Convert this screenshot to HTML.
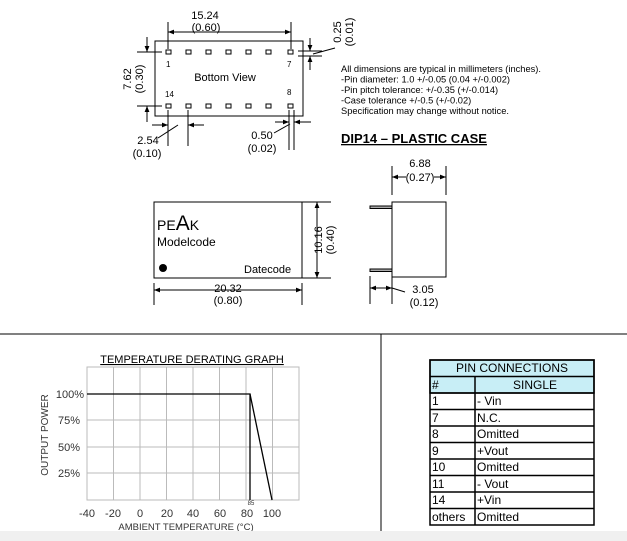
<!DOCTYPE html>
<html><head><style>
body{margin:0;background:#fff;}
svg{display:block;font-family:"Liberation Sans",Arial,sans-serif;}
</style></head><body>
<svg width="627" height="541" viewBox="0 0 627 541" xmlns="http://www.w3.org/2000/svg">
<defs>
<marker id="a" viewBox="0 0 10 10" refX="10" refY="5" markerWidth="7" markerHeight="6" orient="auto-start-reverse"><path d="M0,1 L10,5 L0,9z" fill="#000"/></marker>
</defs>
<g stroke="#000" stroke-width="1" fill="none">
<rect x="155" y="41" width="148" height="75"/>
<g stroke-width="1">
<rect x="166" y="50" width="5" height="4"/><rect x="186" y="50" width="5" height="4"/><rect x="206" y="50" width="5" height="4"/><rect x="226" y="50" width="5" height="4"/><rect x="246" y="50" width="5" height="4"/><rect x="266" y="50" width="5" height="4"/><rect x="288" y="50" width="5" height="4"/>
<rect x="166" y="104" width="5" height="4"/><rect x="186" y="104" width="5" height="4"/><rect x="206" y="104" width="5" height="4"/><rect x="226" y="104" width="5" height="4"/><rect x="246" y="104" width="5" height="4"/><rect x="266" y="104" width="5" height="4"/><rect x="288" y="104" width="5" height="4"/>
</g>
<line x1="168" y1="22" x2="168" y2="49"/><line x1="291" y1="22" x2="291" y2="49"/>
<line x1="168" y1="32" x2="291" y2="32" marker-start="url(#a)" marker-end="url(#a)"/>
<line x1="137" y1="52" x2="162" y2="52"/><line x1="137" y1="106" x2="162" y2="106"/>
<line x1="147" y1="37" x2="147" y2="52" marker-end="url(#a)"/><line x1="147" y1="122" x2="147" y2="106" marker-end="url(#a)"/>
<line x1="298" y1="51" x2="322" y2="51"/><line x1="298" y1="56" x2="322" y2="56"/>
<line x1="310" y1="38" x2="310" y2="51" marker-end="url(#a)"/><line x1="310" y1="70" x2="310" y2="56" marker-end="url(#a)"/>
<line x1="313" y1="54" x2="335" y2="48"/>
<line x1="168" y1="110" x2="168" y2="146"/><line x1="188" y1="110" x2="188" y2="146"/>
<line x1="152" y1="125" x2="168" y2="125" marker-end="url(#a)"/><line x1="204" y1="125" x2="188" y2="125" marker-end="url(#a)"/>
<line x1="158" y1="138" x2="178" y2="125"/>
<line x1="289" y1="110" x2="289" y2="150"/><line x1="294" y1="110" x2="294" y2="150"/>
<line x1="275" y1="122" x2="289" y2="122" marker-end="url(#a)"/><line x1="311" y1="122" x2="294" y2="122" marker-end="url(#a)"/>
<line x1="274" y1="133" x2="290" y2="124"/>
<rect x="154" y="202" width="148" height="76"/>
<line x1="302" y1="202" x2="331" y2="202"/><line x1="302" y1="278" x2="331" y2="278"/>
<line x1="317" y1="217" x2="317" y2="202" marker-end="url(#a)"/><line x1="317" y1="263" x2="317" y2="278" marker-end="url(#a)"/>
<line x1="317" y1="217" x2="317" y2="263"/>
<line x1="154" y1="283" x2="154" y2="305"/><line x1="302" y1="283" x2="302" y2="305"/>
<line x1="154" y1="290" x2="302" y2="290" marker-start="url(#a)" marker-end="url(#a)"/>
<rect x="392" y="202" width="54" height="75"/>
<rect x="370" y="206" width="22" height="2.5" fill="#aaa"/>
<rect x="370" y="269" width="22" height="2.5" fill="#aaa"/>
<line x1="392" y1="166" x2="392" y2="195"/><line x1="446" y1="166" x2="446" y2="195"/>
<line x1="392" y1="177" x2="406" y2="177" marker-start="url(#a)"/><line x1="434" y1="177" x2="446" y2="177" marker-end="url(#a)"/>
<line x1="370" y1="276" x2="370" y2="304"/><line x1="392" y1="276" x2="392" y2="304"/>
<line x1="370" y1="288" x2="392" y2="288" marker-start="url(#a)" marker-end="url(#a)"/>
<line x1="392" y1="288" x2="405" y2="292"/>
<line x1="0" y1="334" x2="627" y2="334"/>
<line x1="381" y1="334" x2="381" y2="531"/>
</g>
<circle cx="163" cy="268" r="4" fill="#000"/>
<g font-size="11" fill="#000">
<text x="205" y="19" text-anchor="middle">15.24</text>
<text x="206" y="31" text-anchor="middle">(0.60)</text>
<text x="166" y="67" font-size="8">1</text><text x="287" y="67" font-size="8">7</text>
<text x="165" y="97" font-size="8">14</text><text x="287" y="95" font-size="8">8</text>
<text x="225" y="81" text-anchor="middle">Bottom View</text>
<text transform="translate(131,79) rotate(-90)" text-anchor="middle">7.62</text>
<text transform="translate(143,79) rotate(-90)" text-anchor="middle">(0.30)</text>
<text transform="translate(341,32) rotate(-90)" text-anchor="middle">0.25</text>
<text transform="translate(353,32) rotate(-90)" text-anchor="middle">(0.01)</text>
<text x="148" y="144" text-anchor="middle">2.54</text><text x="147" y="157" text-anchor="middle">(0.10)</text>
<text x="262" y="139" text-anchor="middle">0.50</text><text x="262" y="152" text-anchor="middle">(0.02)</text>
<text x="420" y="167" text-anchor="middle">6.88</text><text x="420" y="181" text-anchor="middle">(0.27)</text>
<text x="423" y="293" text-anchor="middle">3.05</text><text x="424" y="306" text-anchor="middle">(0.12)</text>
<text x="228" y="292" text-anchor="middle">20.32</text><text x="228" y="304" text-anchor="middle">(0.80)</text>
<text transform="translate(322,240) rotate(-90)" text-anchor="middle">10.16</text>
<text transform="translate(334,240) rotate(-90)" text-anchor="middle">(0.40)</text>
<text x="157" y="230" font-size="14">PE<tspan font-size="21">A</tspan>K</text>
<text x="157" y="246" font-size="12">Modelcode</text>
<text x="244" y="273" font-size="11">Datecode</text>
</g>
<g font-size="9.3" fill="#000">
<text x="341" y="72">All dimensions are typical in millimeters (inches).</text>
<text x="341" y="82.5">-Pin diameter: 1.0 +/-0.05 (0.04 +/-0.002)</text>
<text x="341" y="93">-Pin pitch tolerance: +/-0.35 (+/-0.014)</text>
<text x="341" y="103.5">-Case tolerance +/-0.5 (+/-0.02)</text>
<text x="341" y="114">Specification may change without notice.</text>
</g>
<text x="341" y="143" font-size="13" font-weight="bold" text-decoration="underline" fill="#000">DIP14 – PLASTIC CASE</text>
<text x="192" y="363" font-size="11" text-anchor="middle" text-decoration="underline">TEMPERATURE DERATING GRAPH</text>
<g stroke="#bbb" stroke-width="1">
<line x1="113.5" y1="367" x2="113.5" y2="500"/><line x1="140" y1="367" x2="140" y2="500"/><line x1="166.5" y1="367" x2="166.5" y2="500"/><line x1="193" y1="367" x2="193" y2="500"/><line x1="219.5" y1="367" x2="219.5" y2="500"/><line x1="246" y1="367" x2="246" y2="500"/><line x1="272.5" y1="367" x2="272.5" y2="500"/>
<line x1="87" y1="420" x2="299" y2="420"/><line x1="87" y1="447" x2="299" y2="447"/><line x1="87" y1="473" x2="299" y2="473"/>
<rect x="87" y="367" width="212" height="133" fill="none"/>
</g>
<g stroke="#000" stroke-width="1.3" fill="none">
<polyline points="87,394 250,394 250,500"/><line x1="250" y1="394" x2="272" y2="500"/>
</g>
<g font-size="11" fill="#333">
<text x="84" y="398" text-anchor="end">100%</text>
<text x="80" y="424" text-anchor="end">75%</text>
<text x="80" y="451" text-anchor="end">50%</text>
<text x="80" y="477" text-anchor="end">25%</text>
<text x="87" y="517" text-anchor="middle">-40</text><text x="113" y="517" text-anchor="middle">-20</text><text x="140" y="517" text-anchor="middle">0</text><text x="167" y="517" text-anchor="middle">20</text><text x="193" y="517" text-anchor="middle">40</text><text x="220" y="517" text-anchor="middle">60</text><text x="247" y="517" text-anchor="middle">80</text><text x="272" y="517" text-anchor="middle">100</text>
<text x="251" y="505" font-size="6" text-anchor="middle">85</text>
<text x="186" y="530" font-size="9.5" text-anchor="middle">AMBIENT TEMPERATURE (°C)</text>
<text transform="translate(48,435) rotate(-90)" font-size="10" text-anchor="middle">OUTPUT POWER</text>
</g>
<g stroke="#000" stroke-width="1.5">
<rect x="430" y="360" width="164" height="33" fill="#c8eef6"/>
<rect x="430" y="360" width="164" height="165" fill="none"/>
<line x1="430" y1="376.5" x2="594" y2="376.5"/>
<line x1="430" y1="393" x2="594" y2="393"/><line x1="430" y1="409.5" x2="594" y2="409.5"/><line x1="430" y1="426" x2="594" y2="426"/><line x1="430" y1="442.5" x2="594" y2="442.5"/><line x1="430" y1="459" x2="594" y2="459"/><line x1="430" y1="475.5" x2="594" y2="475.5"/><line x1="430" y1="492" x2="594" y2="492"/><line x1="430" y1="508.5" x2="594" y2="508.5"/>
<line x1="475" y1="376.5" x2="475" y2="525"/>
</g>
<g font-size="12" fill="#000">
<text x="512" y="372" text-anchor="middle">PIN CONNECTIONS</text>
<text x="432" y="389">#</text><text x="535" y="389" text-anchor="middle">SINGLE</text>
<text x="432" y="405">1</text><text x="477" y="405">- Vin</text>
<text x="432" y="422">7</text><text x="477" y="422">N.C.</text>
<text x="432" y="438">8</text><text x="477" y="438">Omitted</text>
<text x="432" y="455">9</text><text x="477" y="455">+Vout</text>
<text x="432" y="471">10</text><text x="477" y="471">Omitted</text>
<text x="432" y="488">11</text><text x="477" y="488">- Vout</text>
<text x="432" y="504">14</text><text x="477" y="504">+Vin</text>
<text x="432" y="521">others</text><text x="477" y="521">Omitted</text>
</g>
<rect x="0" y="531" width="627" height="10" fill="#f0f0f0"/>
</svg>
</body></html>
